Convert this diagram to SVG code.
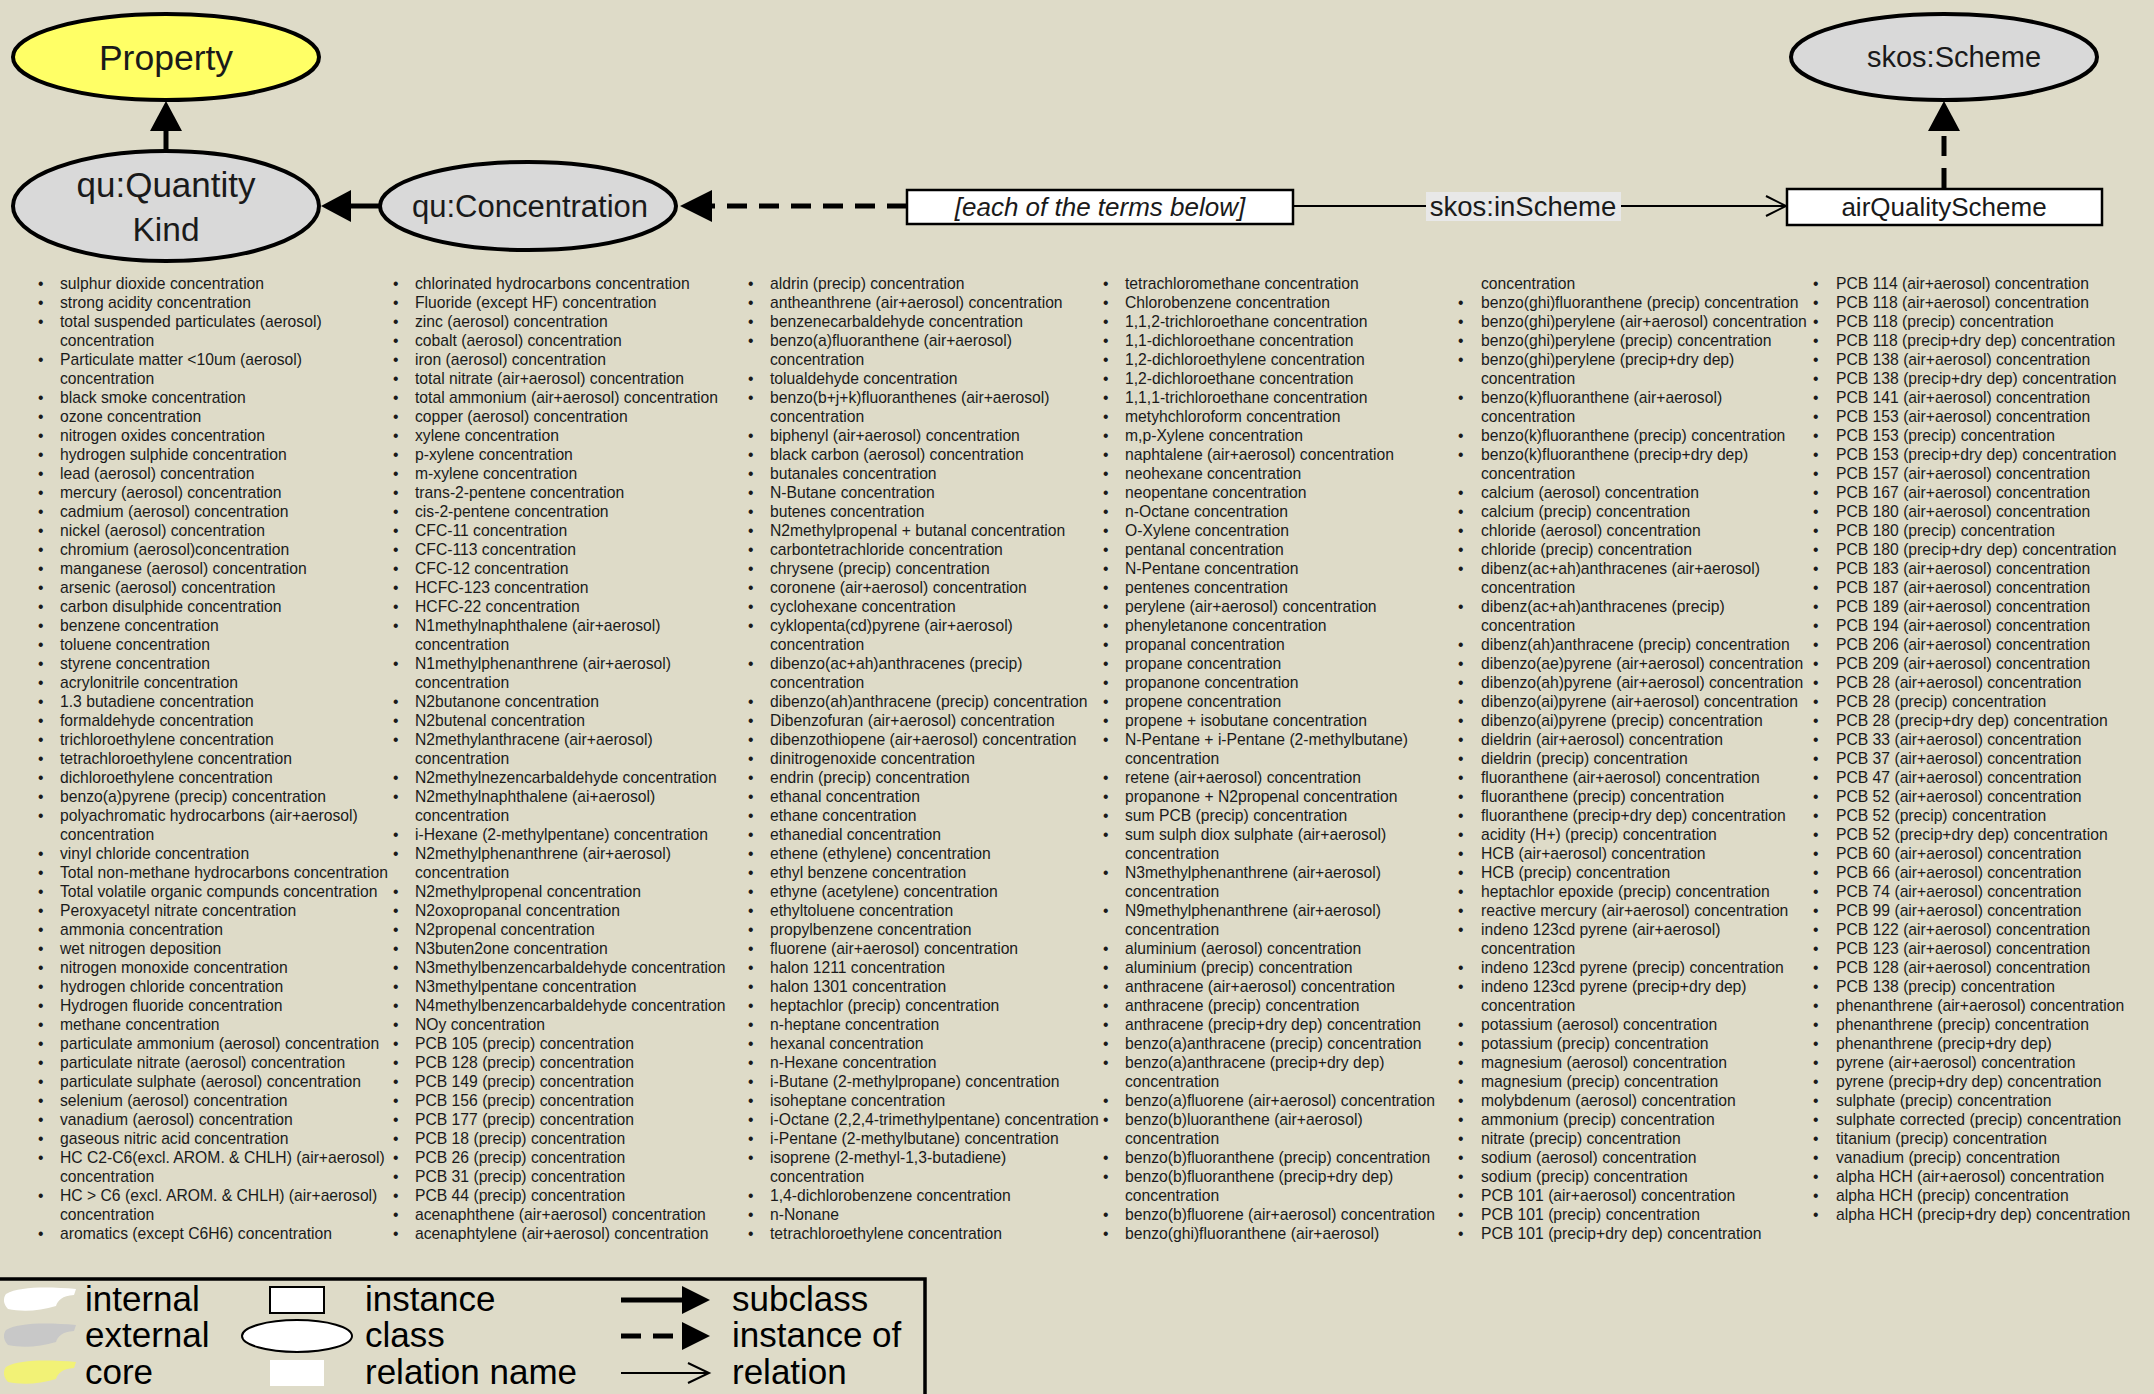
<svg xmlns="http://www.w3.org/2000/svg" width="2154" height="1394" viewBox="0 0 2154 1394">
<defs>
<style>
.bg{fill:#dedbc8}
.ell{stroke:#000;stroke-width:4}
.lbl{font-family:"Liberation Sans",Arial,sans-serif;fill:#1a1a1a;text-anchor:middle}
.box{fill:#fff;stroke:#000;stroke-width:2.5}
.li{font-family:"Liberation Sans",Arial,sans-serif;font-size:15.7px;fill:#1a1a1a}
.leg{font-family:"Liberation Sans",Arial,sans-serif;font-size:35px;fill:#000}
.sub{stroke:#000;stroke-width:5;fill:none}
.inst{stroke:#000;stroke-width:5;fill:none;stroke-dasharray:20 12}
.rel{stroke:#000;stroke-width:2;fill:none}
.head{fill:#000}
</style>
</defs>
<rect class="bg" x="0" y="0" width="2154" height="1394"/>

<g id="connectors">
  <line class="sub" x1="166" y1="151" x2="166" y2="128"/>
  <polygon class="head" points="166,101 150,131 182,131"/>
  <line class="sub" x1="379" y1="206" x2="348" y2="206"/>
  <polygon class="head" points="321,206 351,190 351,222"/>
  <line class="inst" x1="907" y1="206" x2="712" y2="206"/>
  <polygon class="head" points="680,206 712,190 712,222"/>
  <line class="rel" x1="1293" y1="206" x2="1785" y2="206"/>
  <polyline class="rel" points="1766,196 1786,206 1766,216"/>
  <line class="inst" x1="1944" y1="188" x2="1944" y2="131"/>
  <polygon class="head" points="1944,101 1928,131 1960,131"/>
  <g id="label-inScheme">
    <rect x="1426" y="192" width="195" height="29" fill="#e8e8e8"/>
    <text class="lbl" x="1523" y="216" font-size="27.5">skos:inScheme</text>
  </g>
</g>

<g id="node-property">
  <ellipse class="ell" cx="166" cy="57" rx="153" ry="43" fill="#ffff66"/>
  <text class="lbl" x="166" y="70" font-size="35.5">Property</text>
</g>
<g id="node-skosScheme">
  <ellipse class="ell" cx="1944" cy="57" rx="153" ry="43" fill="#d9d9d9"/>
  <text class="lbl" x="1954" y="67" font-size="29">skos:Scheme</text>
</g>
<g id="node-quantityKind">
  <ellipse class="ell" cx="166" cy="206" rx="153" ry="55" fill="#d9d9d9"/>
  <text class="lbl" x="166" y="197" font-size="35">qu:Quantity</text>
  <text class="lbl" x="166" y="241" font-size="33.5">Kind</text>
</g>
<g id="node-concentration">
  <ellipse class="ell" cx="528" cy="206" rx="148" ry="44" fill="#d9d9d9"/>
  <text class="lbl" x="530" y="217" font-size="31">qu:Concentration</text>
</g>
<g id="node-terms">
  <rect class="box" x="907" y="190" width="386" height="34"/>
  <text class="lbl" x="1100" y="216" font-size="26" font-style="italic">[each of the terms below]</text>
</g>
<g id="node-airQualityScheme">
  <rect class="box" x="1787" y="189" width="315" height="36"/>
  <text class="lbl" x="1944" y="216" font-size="26">airQualityScheme</text>
</g>

<g id="terms-col1" class="li">
<text x="38">
<tspan x="38" y="289">•</tspan><tspan x="38" y="308">•</tspan><tspan x="38" y="327">•</tspan><tspan x="38" y="365">•</tspan><tspan x="38" y="403">•</tspan><tspan x="38" y="422">•</tspan><tspan x="38" y="441">•</tspan><tspan x="38" y="460">•</tspan><tspan x="38" y="479">•</tspan><tspan x="38" y="498">•</tspan><tspan x="38" y="517">•</tspan><tspan x="38" y="536">•</tspan><tspan x="38" y="555">•</tspan><tspan x="38" y="574">•</tspan><tspan x="38" y="593">•</tspan><tspan x="38" y="612">•</tspan><tspan x="38" y="631">•</tspan><tspan x="38" y="650">•</tspan><tspan x="38" y="669">•</tspan><tspan x="38" y="688">•</tspan><tspan x="38" y="707">•</tspan><tspan x="38" y="726">•</tspan><tspan x="38" y="745">•</tspan><tspan x="38" y="764">•</tspan><tspan x="38" y="783">•</tspan><tspan x="38" y="802">•</tspan><tspan x="38" y="821">•</tspan><tspan x="38" y="859">•</tspan><tspan x="38" y="878">•</tspan><tspan x="38" y="897">•</tspan><tspan x="38" y="916">•</tspan><tspan x="38" y="935">•</tspan><tspan x="38" y="954">•</tspan><tspan x="38" y="973">•</tspan><tspan x="38" y="992">•</tspan><tspan x="38" y="1011">•</tspan><tspan x="38" y="1030">•</tspan><tspan x="38" y="1049">•</tspan><tspan x="38" y="1068">•</tspan><tspan x="38" y="1087">•</tspan><tspan x="38" y="1106">•</tspan><tspan x="38" y="1125">•</tspan><tspan x="38" y="1144">•</tspan><tspan x="38" y="1163">•</tspan><tspan x="38" y="1201">•</tspan><tspan x="38" y="1239">•</tspan>
</text>
<text>
<tspan x="60" y="289">sulphur dioxide concentration</tspan>
<tspan x="60" y="308">strong acidity concentration</tspan>
<tspan x="60" y="327">total suspended particulates (aerosol)</tspan>
<tspan x="60" y="346">concentration</tspan>
<tspan x="60" y="365">Particulate matter &lt;10um (aerosol)</tspan>
<tspan x="60" y="384">concentration</tspan>
<tspan x="60" y="403">black smoke concentration</tspan>
<tspan x="60" y="422">ozone concentration</tspan>
<tspan x="60" y="441">nitrogen oxides concentration</tspan>
<tspan x="60" y="460">hydrogen sulphide concentration</tspan>
<tspan x="60" y="479">lead (aerosol) concentration</tspan>
<tspan x="60" y="498">mercury (aerosol) concentration</tspan>
<tspan x="60" y="517">cadmium (aerosol) concentration</tspan>
<tspan x="60" y="536">nickel (aerosol) concentration</tspan>
<tspan x="60" y="555">chromium (aerosol)concentration</tspan>
<tspan x="60" y="574">manganese (aerosol) concentration</tspan>
<tspan x="60" y="593">arsenic (aerosol) concentration</tspan>
<tspan x="60" y="612">carbon disulphide concentration</tspan>
<tspan x="60" y="631">benzene concentration</tspan>
<tspan x="60" y="650">toluene concentration</tspan>
<tspan x="60" y="669">styrene concentration</tspan>
<tspan x="60" y="688">acrylonitrile concentration</tspan>
<tspan x="60" y="707">1.3 butadiene concentration</tspan>
<tspan x="60" y="726">formaldehyde concentration</tspan>
<tspan x="60" y="745">trichloroethylene concentration</tspan>
<tspan x="60" y="764">tetrachloroethylene concentration</tspan>
<tspan x="60" y="783">dichloroethylene concentration</tspan>
<tspan x="60" y="802">benzo(a)pyrene (precip) concentration</tspan>
<tspan x="60" y="821">polyachromatic hydrocarbons (air+aerosol)</tspan>
<tspan x="60" y="840">concentration</tspan>
<tspan x="60" y="859">vinyl chloride concentration</tspan>
<tspan x="60" y="878">Total non-methane hydrocarbons concentration</tspan>
<tspan x="60" y="897">Total volatile organic compunds concentration</tspan>
<tspan x="60" y="916">Peroxyacetyl nitrate concentration</tspan>
<tspan x="60" y="935">ammonia concentration</tspan>
<tspan x="60" y="954">wet nitrogen deposition</tspan>
<tspan x="60" y="973">nitrogen monoxide concentration</tspan>
<tspan x="60" y="992">hydrogen chloride concentration</tspan>
<tspan x="60" y="1011">Hydrogen fluoride concentration</tspan>
<tspan x="60" y="1030">methane concentration</tspan>
<tspan x="60" y="1049">particulate ammonium (aerosol) concentration</tspan>
<tspan x="60" y="1068">particulate nitrate (aerosol) concentration</tspan>
<tspan x="60" y="1087">particulate sulphate (aerosol) concentration</tspan>
<tspan x="60" y="1106">selenium (aerosol) concentration</tspan>
<tspan x="60" y="1125">vanadium (aerosol) concentration</tspan>
<tspan x="60" y="1144">gaseous nitric acid concentration</tspan>
<tspan x="60" y="1163">HC C2-C6(excl. AROM. &amp; CHLH) (air+aerosol)</tspan>
<tspan x="60" y="1182">concentration</tspan>
<tspan x="60" y="1201">HC &gt; C6 (excl. AROM. &amp; CHLH) (air+aerosol)</tspan>
<tspan x="60" y="1220">concentration</tspan>
<tspan x="60" y="1239">aromatics (except C6H6) concentration</tspan>
</text>
</g>

<g id="terms-col2" class="li">
<text>
<tspan x="393" y="289">•</tspan><tspan x="393" y="308">•</tspan><tspan x="393" y="327">•</tspan><tspan x="393" y="346">•</tspan><tspan x="393" y="365">•</tspan><tspan x="393" y="384">•</tspan><tspan x="393" y="403">•</tspan><tspan x="393" y="422">•</tspan><tspan x="393" y="441">•</tspan><tspan x="393" y="460">•</tspan><tspan x="393" y="479">•</tspan><tspan x="393" y="498">•</tspan><tspan x="393" y="517">•</tspan><tspan x="393" y="536">•</tspan><tspan x="393" y="555">•</tspan><tspan x="393" y="574">•</tspan><tspan x="393" y="593">•</tspan><tspan x="393" y="612">•</tspan><tspan x="393" y="631">•</tspan><tspan x="393" y="669">•</tspan><tspan x="393" y="707">•</tspan><tspan x="393" y="726">•</tspan><tspan x="393" y="745">•</tspan><tspan x="393" y="783">•</tspan><tspan x="393" y="802">•</tspan><tspan x="393" y="840">•</tspan><tspan x="393" y="859">•</tspan><tspan x="393" y="897">•</tspan><tspan x="393" y="916">•</tspan><tspan x="393" y="935">•</tspan><tspan x="393" y="954">•</tspan><tspan x="393" y="973">•</tspan><tspan x="393" y="992">•</tspan><tspan x="393" y="1011">•</tspan><tspan x="393" y="1030">•</tspan><tspan x="393" y="1049">•</tspan><tspan x="393" y="1068">•</tspan><tspan x="393" y="1087">•</tspan><tspan x="393" y="1106">•</tspan><tspan x="393" y="1125">•</tspan><tspan x="393" y="1144">•</tspan><tspan x="393" y="1163">•</tspan><tspan x="393" y="1182">•</tspan><tspan x="393" y="1201">•</tspan><tspan x="393" y="1220">•</tspan><tspan x="393" y="1239">•</tspan>
</text>
<text>
<tspan x="415" y="289">chlorinated hydrocarbons concentration</tspan>
<tspan x="415" y="308">Fluoride (except HF) concentration</tspan>
<tspan x="415" y="327">zinc (aerosol) concentration</tspan>
<tspan x="415" y="346">cobalt (aerosol) concentration</tspan>
<tspan x="415" y="365">iron (aerosol) concentration</tspan>
<tspan x="415" y="384">total nitrate (air+aerosol) concentration</tspan>
<tspan x="415" y="403">total ammonium (air+aerosol) concentration</tspan>
<tspan x="415" y="422">copper (aerosol) concentration</tspan>
<tspan x="415" y="441">xylene concentration</tspan>
<tspan x="415" y="460">p-xylene concentration</tspan>
<tspan x="415" y="479">m-xylene concentration</tspan>
<tspan x="415" y="498">trans-2-pentene concentration</tspan>
<tspan x="415" y="517">cis-2-pentene concentration</tspan>
<tspan x="415" y="536">CFC-11 concentration</tspan>
<tspan x="415" y="555">CFC-113 concentration</tspan>
<tspan x="415" y="574">CFC-12 concentration</tspan>
<tspan x="415" y="593">HCFC-123 concentration</tspan>
<tspan x="415" y="612">HCFC-22 concentration</tspan>
<tspan x="415" y="631">N1methylnaphthalene (air+aerosol)</tspan>
<tspan x="415" y="650">concentration</tspan>
<tspan x="415" y="669">N1methylphenanthrene (air+aerosol)</tspan>
<tspan x="415" y="688">concentration</tspan>
<tspan x="415" y="707">N2butanone concentration</tspan>
<tspan x="415" y="726">N2butenal concentration</tspan>
<tspan x="415" y="745">N2methylanthracene (air+aerosol)</tspan>
<tspan x="415" y="764">concentration</tspan>
<tspan x="415" y="783">N2methylnezencarbaldehyde concentration</tspan>
<tspan x="415" y="802">N2methylnaphthalene (ai+aerosol)</tspan>
<tspan x="415" y="821">concentration</tspan>
<tspan x="415" y="840">i-Hexane (2-methylpentane) concentration</tspan>
<tspan x="415" y="859">N2methylphenanthrene (air+aerosol)</tspan>
<tspan x="415" y="878">concentration</tspan>
<tspan x="415" y="897">N2methylpropenal concentration</tspan>
<tspan x="415" y="916">N2oxopropanal concentration</tspan>
<tspan x="415" y="935">N2propenal concentration</tspan>
<tspan x="415" y="954">N3buten2one concentration</tspan>
<tspan x="415" y="973">N3methylbenzencarbaldehyde concentration</tspan>
<tspan x="415" y="992">N3methylpentane concentration</tspan>
<tspan x="415" y="1011">N4methylbenzencarbaldehyde concentration</tspan>
<tspan x="415" y="1030">NOy concentration</tspan>
<tspan x="415" y="1049">PCB 105 (precip) concentration</tspan>
<tspan x="415" y="1068">PCB 128 (precip) concentration</tspan>
<tspan x="415" y="1087">PCB 149 (precip) concentration</tspan>
<tspan x="415" y="1106">PCB 156 (precip) concentration</tspan>
<tspan x="415" y="1125">PCB 177 (precip) concentration</tspan>
<tspan x="415" y="1144">PCB 18 (precip) concentration</tspan>
<tspan x="415" y="1163">PCB 26 (precip) concentration</tspan>
<tspan x="415" y="1182">PCB 31 (precip) concentration</tspan>
<tspan x="415" y="1201">PCB 44 (precip) concentration</tspan>
<tspan x="415" y="1220">acenaphthene (air+aerosol) concentration</tspan>
<tspan x="415" y="1239">acenaphtylene (air+aerosol) concentration</tspan>
</text>
</g>

<g id="terms-col3" class="li">
<text>
<tspan x="748" y="289">•</tspan><tspan x="748" y="308">•</tspan><tspan x="748" y="327">•</tspan><tspan x="748" y="346">•</tspan><tspan x="748" y="384">•</tspan><tspan x="748" y="403">•</tspan><tspan x="748" y="441">•</tspan><tspan x="748" y="460">•</tspan><tspan x="748" y="479">•</tspan><tspan x="748" y="498">•</tspan><tspan x="748" y="517">•</tspan><tspan x="748" y="536">•</tspan><tspan x="748" y="555">•</tspan><tspan x="748" y="574">•</tspan><tspan x="748" y="593">•</tspan><tspan x="748" y="612">•</tspan><tspan x="748" y="631">•</tspan><tspan x="748" y="669">•</tspan><tspan x="748" y="707">•</tspan><tspan x="748" y="726">•</tspan><tspan x="748" y="745">•</tspan><tspan x="748" y="764">•</tspan><tspan x="748" y="783">•</tspan><tspan x="748" y="802">•</tspan><tspan x="748" y="821">•</tspan><tspan x="748" y="840">•</tspan><tspan x="748" y="859">•</tspan><tspan x="748" y="878">•</tspan><tspan x="748" y="897">•</tspan><tspan x="748" y="916">•</tspan><tspan x="748" y="935">•</tspan><tspan x="748" y="954">•</tspan><tspan x="748" y="973">•</tspan><tspan x="748" y="992">•</tspan><tspan x="748" y="1011">•</tspan><tspan x="748" y="1030">•</tspan><tspan x="748" y="1049">•</tspan><tspan x="748" y="1068">•</tspan><tspan x="748" y="1087">•</tspan><tspan x="748" y="1106">•</tspan><tspan x="748" y="1125">•</tspan><tspan x="748" y="1144">•</tspan><tspan x="748" y="1163">•</tspan><tspan x="748" y="1201">•</tspan><tspan x="748" y="1220">•</tspan><tspan x="748" y="1239">•</tspan>
</text>
<text>
<tspan x="770" y="289">aldrin (precip) concentration</tspan>
<tspan x="770" y="308">antheanthrene (air+aerosol) concentration</tspan>
<tspan x="770" y="327">benzenecarbaldehyde concentration</tspan>
<tspan x="770" y="346">benzo(a)fluoranthene (air+aerosol)</tspan>
<tspan x="770" y="365">concentration</tspan>
<tspan x="770" y="384">tolualdehyde concentration</tspan>
<tspan x="770" y="403">benzo(b+j+k)fluoranthenes (air+aerosol)</tspan>
<tspan x="770" y="422">concentration</tspan>
<tspan x="770" y="441">biphenyl (air+aerosol) concentration</tspan>
<tspan x="770" y="460">black carbon (aerosol) concentration</tspan>
<tspan x="770" y="479">butanales concentration</tspan>
<tspan x="770" y="498">N-Butane concentration</tspan>
<tspan x="770" y="517">butenes concentration</tspan>
<tspan x="770" y="536">N2methylpropenal + butanal concentration</tspan>
<tspan x="770" y="555">carbontetrachloride concentration</tspan>
<tspan x="770" y="574">chrysene (precip) concentration</tspan>
<tspan x="770" y="593">coronene (air+aerosol) concentration</tspan>
<tspan x="770" y="612">cyclohexane concentration</tspan>
<tspan x="770" y="631">cyklopenta(cd)pyrene (air+aerosol)</tspan>
<tspan x="770" y="650">concentration</tspan>
<tspan x="770" y="669">dibenzo(ac+ah)anthracenes (precip)</tspan>
<tspan x="770" y="688">concentration</tspan>
<tspan x="770" y="707">dibenzo(ah)anthracene (precip) concentration</tspan>
<tspan x="770" y="726">Dibenzofuran (air+aerosol) concentration</tspan>
<tspan x="770" y="745">dibenzothiopene (air+aerosol) concentration</tspan>
<tspan x="770" y="764">dinitrogenoxide concentration</tspan>
<tspan x="770" y="783">endrin (precip) concentration</tspan>
<tspan x="770" y="802">ethanal concentration</tspan>
<tspan x="770" y="821">ethane concentration</tspan>
<tspan x="770" y="840">ethanedial concentration</tspan>
<tspan x="770" y="859">ethene (ethylene) concentration</tspan>
<tspan x="770" y="878">ethyl benzene concentration</tspan>
<tspan x="770" y="897">ethyne (acetylene) concentration</tspan>
<tspan x="770" y="916">ethyltoluene concentration</tspan>
<tspan x="770" y="935">propylbenzene concentration</tspan>
<tspan x="770" y="954">fluorene (air+aerosol) concentration</tspan>
<tspan x="770" y="973">halon 1211 concentration</tspan>
<tspan x="770" y="992">halon 1301 concentration</tspan>
<tspan x="770" y="1011">heptachlor (precip) concentration</tspan>
<tspan x="770" y="1030">n-heptane concentration</tspan>
<tspan x="770" y="1049">hexanal concentration</tspan>
<tspan x="770" y="1068">n-Hexane concentration</tspan>
<tspan x="770" y="1087">i-Butane (2-methylpropane) concentration</tspan>
<tspan x="770" y="1106">isoheptane concentration</tspan>
<tspan x="770" y="1125">i-Octane (2,2,4-trimethylpentane) concentration</tspan>
<tspan x="770" y="1144">i-Pentane (2-methylbutane) concentration</tspan>
<tspan x="770" y="1163">isoprene (2-methyl-1,3-butadiene)</tspan>
<tspan x="770" y="1182">concentration</tspan>
<tspan x="770" y="1201">1,4-dichlorobenzene concentration</tspan>
<tspan x="770" y="1220">n-Nonane</tspan>
<tspan x="770" y="1239">tetrachloroethylene concentration</tspan>
</text>
</g>

<g id="terms-col4" class="li">
<text>
<tspan x="1103" y="289">•</tspan><tspan x="1103" y="308">•</tspan><tspan x="1103" y="327">•</tspan><tspan x="1103" y="346">•</tspan><tspan x="1103" y="365">•</tspan><tspan x="1103" y="384">•</tspan><tspan x="1103" y="403">•</tspan><tspan x="1103" y="422">•</tspan><tspan x="1103" y="441">•</tspan><tspan x="1103" y="460">•</tspan><tspan x="1103" y="479">•</tspan><tspan x="1103" y="498">•</tspan><tspan x="1103" y="517">•</tspan><tspan x="1103" y="536">•</tspan><tspan x="1103" y="555">•</tspan><tspan x="1103" y="574">•</tspan><tspan x="1103" y="593">•</tspan><tspan x="1103" y="612">•</tspan><tspan x="1103" y="631">•</tspan><tspan x="1103" y="650">•</tspan><tspan x="1103" y="669">•</tspan><tspan x="1103" y="688">•</tspan><tspan x="1103" y="707">•</tspan><tspan x="1103" y="726">•</tspan><tspan x="1103" y="745">•</tspan><tspan x="1103" y="783">•</tspan><tspan x="1103" y="802">•</tspan><tspan x="1103" y="821">•</tspan><tspan x="1103" y="840">•</tspan><tspan x="1103" y="878">•</tspan><tspan x="1103" y="916">•</tspan><tspan x="1103" y="954">•</tspan><tspan x="1103" y="973">•</tspan><tspan x="1103" y="992">•</tspan><tspan x="1103" y="1011">•</tspan><tspan x="1103" y="1030">•</tspan><tspan x="1103" y="1049">•</tspan><tspan x="1103" y="1068">•</tspan><tspan x="1103" y="1106">•</tspan><tspan x="1103" y="1125">•</tspan><tspan x="1103" y="1163">•</tspan><tspan x="1103" y="1182">•</tspan><tspan x="1103" y="1220">•</tspan><tspan x="1103" y="1239">•</tspan>
</text>
<text>
<tspan x="1125" y="289">tetrachloromethane concentration</tspan>
<tspan x="1125" y="308">Chlorobenzene concentration</tspan>
<tspan x="1125" y="327">1,1,2-trichloroethane concentration</tspan>
<tspan x="1125" y="346">1,1-dichloroethane concentration</tspan>
<tspan x="1125" y="365">1,2-dichloroethylene concentration</tspan>
<tspan x="1125" y="384">1,2-dichloroethane concentration</tspan>
<tspan x="1125" y="403">1,1,1-trichloroethane concentration</tspan>
<tspan x="1125" y="422">metyhchloroform concentration</tspan>
<tspan x="1125" y="441">m,p-Xylene concentration</tspan>
<tspan x="1125" y="460">naphtalene (air+aerosol) concentration</tspan>
<tspan x="1125" y="479">neohexane concentration</tspan>
<tspan x="1125" y="498">neopentane concentration</tspan>
<tspan x="1125" y="517">n-Octane concentration</tspan>
<tspan x="1125" y="536">O-Xylene concentration</tspan>
<tspan x="1125" y="555">pentanal concentration</tspan>
<tspan x="1125" y="574">N-Pentane concentration</tspan>
<tspan x="1125" y="593">pentenes concentration</tspan>
<tspan x="1125" y="612">perylene (air+aerosol) concentration</tspan>
<tspan x="1125" y="631">phenyletanone concentration</tspan>
<tspan x="1125" y="650">propanal concentration</tspan>
<tspan x="1125" y="669">propane concentration</tspan>
<tspan x="1125" y="688">propanone concentration</tspan>
<tspan x="1125" y="707">propene concentration</tspan>
<tspan x="1125" y="726">propene + isobutane concentration</tspan>
<tspan x="1125" y="745">N-Pentane + i-Pentane (2-methylbutane)</tspan>
<tspan x="1125" y="764">concentration</tspan>
<tspan x="1125" y="783">retene (air+aerosol) concentration</tspan>
<tspan x="1125" y="802">propanone + N2propenal concentration</tspan>
<tspan x="1125" y="821">sum PCB (precip) concentration</tspan>
<tspan x="1125" y="840">sum sulph diox sulphate (air+aerosol)</tspan>
<tspan x="1125" y="859">concentration</tspan>
<tspan x="1125" y="878">N3methylphenanthrene (air+aerosol)</tspan>
<tspan x="1125" y="897">concentration</tspan>
<tspan x="1125" y="916">N9methylphenanthrene (air+aerosol)</tspan>
<tspan x="1125" y="935">concentration</tspan>
<tspan x="1125" y="954">aluminium (aerosol) concentration</tspan>
<tspan x="1125" y="973">aluminium (precip) concentration</tspan>
<tspan x="1125" y="992">anthracene (air+aerosol) concentration</tspan>
<tspan x="1125" y="1011">anthracene (precip) concentration</tspan>
<tspan x="1125" y="1030">anthracene (precip+dry dep) concentration</tspan>
<tspan x="1125" y="1049">benzo(a)anthracene (precip) concentration</tspan>
<tspan x="1125" y="1068">benzo(a)anthracene (precip+dry dep)</tspan>
<tspan x="1125" y="1087">concentration</tspan>
<tspan x="1125" y="1106">benzo(a)fluorene (air+aerosol) concentration</tspan>
<tspan x="1125" y="1125">benzo(b)luoranthene (air+aerosol)</tspan>
<tspan x="1125" y="1144">concentration</tspan>
<tspan x="1125" y="1163">benzo(b)fluoranthene (precip) concentration</tspan>
<tspan x="1125" y="1182">benzo(b)fluoranthene (precip+dry dep)</tspan>
<tspan x="1125" y="1201">concentration</tspan>
<tspan x="1125" y="1220">benzo(b)fluorene (air+aerosol) concentration</tspan>
<tspan x="1125" y="1239">benzo(ghi)fluoranthene (air+aerosol)</tspan>
</text>
</g>

<g id="terms-col5" class="li">
<text>
<tspan x="1458" y="308">•</tspan><tspan x="1458" y="327">•</tspan><tspan x="1458" y="346">•</tspan><tspan x="1458" y="365">•</tspan><tspan x="1458" y="403">•</tspan><tspan x="1458" y="441">•</tspan><tspan x="1458" y="460">•</tspan><tspan x="1458" y="498">•</tspan><tspan x="1458" y="517">•</tspan><tspan x="1458" y="536">•</tspan><tspan x="1458" y="555">•</tspan><tspan x="1458" y="574">•</tspan><tspan x="1458" y="612">•</tspan><tspan x="1458" y="650">•</tspan><tspan x="1458" y="669">•</tspan><tspan x="1458" y="688">•</tspan><tspan x="1458" y="707">•</tspan><tspan x="1458" y="726">•</tspan><tspan x="1458" y="745">•</tspan><tspan x="1458" y="764">•</tspan><tspan x="1458" y="783">•</tspan><tspan x="1458" y="802">•</tspan><tspan x="1458" y="821">•</tspan><tspan x="1458" y="840">•</tspan><tspan x="1458" y="859">•</tspan><tspan x="1458" y="878">•</tspan><tspan x="1458" y="897">•</tspan><tspan x="1458" y="916">•</tspan><tspan x="1458" y="935">•</tspan><tspan x="1458" y="973">•</tspan><tspan x="1458" y="992">•</tspan><tspan x="1458" y="1030">•</tspan><tspan x="1458" y="1049">•</tspan><tspan x="1458" y="1068">•</tspan><tspan x="1458" y="1087">•</tspan><tspan x="1458" y="1106">•</tspan><tspan x="1458" y="1125">•</tspan><tspan x="1458" y="1144">•</tspan><tspan x="1458" y="1163">•</tspan><tspan x="1458" y="1182">•</tspan><tspan x="1458" y="1201">•</tspan><tspan x="1458" y="1220">•</tspan><tspan x="1458" y="1239">•</tspan>
</text>
<text>
<tspan x="1481" y="289">concentration</tspan>
<tspan x="1481" y="308">benzo(ghi)fluoranthene (precip) concentration</tspan>
<tspan x="1481" y="327">benzo(ghi)perylene (air+aerosol) concentration</tspan>
<tspan x="1481" y="346">benzo(ghi)perylene (precip) concentration</tspan>
<tspan x="1481" y="365">benzo(ghi)perylene (precip+dry dep)</tspan>
<tspan x="1481" y="384">concentration</tspan>
<tspan x="1481" y="403">benzo(k)fluoranthene (air+aerosol)</tspan>
<tspan x="1481" y="422">concentration</tspan>
<tspan x="1481" y="441">benzo(k)fluoranthene (precip) concentration</tspan>
<tspan x="1481" y="460">benzo(k)fluoranthene (precip+dry dep)</tspan>
<tspan x="1481" y="479">concentration</tspan>
<tspan x="1481" y="498">calcium (aerosol) concentration</tspan>
<tspan x="1481" y="517">calcium (precip) concentration</tspan>
<tspan x="1481" y="536">chloride (aerosol) concentration</tspan>
<tspan x="1481" y="555">chloride (precip) concentration</tspan>
<tspan x="1481" y="574">dibenz(ac+ah)anthracenes (air+aerosol)</tspan>
<tspan x="1481" y="593">concentration</tspan>
<tspan x="1481" y="612">dibenz(ac+ah)anthracenes (precip)</tspan>
<tspan x="1481" y="631">concentration</tspan>
<tspan x="1481" y="650">dibenz(ah)anthracene (precip) concentration</tspan>
<tspan x="1481" y="669">dibenzo(ae)pyrene (air+aerosol) concentration</tspan>
<tspan x="1481" y="688">dibenzo(ah)pyrene (air+aerosol) concentration</tspan>
<tspan x="1481" y="707">dibenzo(ai)pyrene (air+aerosol) concentration</tspan>
<tspan x="1481" y="726">dibenzo(ai)pyrene (precip) concentration</tspan>
<tspan x="1481" y="745">dieldrin (air+aerosol) concentration</tspan>
<tspan x="1481" y="764">dieldrin (precip) concentration</tspan>
<tspan x="1481" y="783">fluoranthene (air+aerosol) concentration</tspan>
<tspan x="1481" y="802">fluoranthene (precip) concentration</tspan>
<tspan x="1481" y="821">fluoranthene (precip+dry dep) concentration</tspan>
<tspan x="1481" y="840">acidity (H+) (precip) concentration</tspan>
<tspan x="1481" y="859">HCB (air+aerosol) concentration</tspan>
<tspan x="1481" y="878">HCB (precip) concentration</tspan>
<tspan x="1481" y="897">heptachlor epoxide (precip) concentration</tspan>
<tspan x="1481" y="916">reactive mercury (air+aerosol) concentration</tspan>
<tspan x="1481" y="935">indeno 123cd pyrene (air+aerosol)</tspan>
<tspan x="1481" y="954">concentration</tspan>
<tspan x="1481" y="973">indeno 123cd pyrene (precip) concentration</tspan>
<tspan x="1481" y="992">indeno 123cd pyrene (precip+dry dep)</tspan>
<tspan x="1481" y="1011">concentration</tspan>
<tspan x="1481" y="1030">potassium (aerosol) concentration</tspan>
<tspan x="1481" y="1049">potassium (precip) concentration</tspan>
<tspan x="1481" y="1068">magnesium (aerosol) concentration</tspan>
<tspan x="1481" y="1087">magnesium (precip) concentration</tspan>
<tspan x="1481" y="1106">molybdenum (aerosol) concentration</tspan>
<tspan x="1481" y="1125">ammonium (precip) concentration</tspan>
<tspan x="1481" y="1144">nitrate (precip) concentration</tspan>
<tspan x="1481" y="1163">sodium (aerosol) concentration</tspan>
<tspan x="1481" y="1182">sodium (precip) concentration</tspan>
<tspan x="1481" y="1201">PCB 101 (air+aerosol) concentration</tspan>
<tspan x="1481" y="1220">PCB 101 (precip) concentration</tspan>
<tspan x="1481" y="1239">PCB 101 (precip+dry dep) concentration</tspan>
</text>
</g>

<g id="terms-col6" class="li">
<text>
<tspan x="1813" y="289">•</tspan><tspan x="1813" y="308">•</tspan><tspan x="1813" y="327">•</tspan><tspan x="1813" y="346">•</tspan><tspan x="1813" y="365">•</tspan><tspan x="1813" y="384">•</tspan><tspan x="1813" y="403">•</tspan><tspan x="1813" y="422">•</tspan><tspan x="1813" y="441">•</tspan><tspan x="1813" y="460">•</tspan><tspan x="1813" y="479">•</tspan><tspan x="1813" y="498">•</tspan><tspan x="1813" y="517">•</tspan><tspan x="1813" y="536">•</tspan><tspan x="1813" y="555">•</tspan><tspan x="1813" y="574">•</tspan><tspan x="1813" y="593">•</tspan><tspan x="1813" y="612">•</tspan><tspan x="1813" y="631">•</tspan><tspan x="1813" y="650">•</tspan><tspan x="1813" y="669">•</tspan><tspan x="1813" y="688">•</tspan><tspan x="1813" y="707">•</tspan><tspan x="1813" y="726">•</tspan><tspan x="1813" y="745">•</tspan><tspan x="1813" y="764">•</tspan><tspan x="1813" y="783">•</tspan><tspan x="1813" y="802">•</tspan><tspan x="1813" y="821">•</tspan><tspan x="1813" y="840">•</tspan><tspan x="1813" y="859">•</tspan><tspan x="1813" y="878">•</tspan><tspan x="1813" y="897">•</tspan><tspan x="1813" y="916">•</tspan><tspan x="1813" y="935">•</tspan><tspan x="1813" y="954">•</tspan><tspan x="1813" y="973">•</tspan><tspan x="1813" y="992">•</tspan><tspan x="1813" y="1011">•</tspan><tspan x="1813" y="1030">•</tspan><tspan x="1813" y="1049">•</tspan><tspan x="1813" y="1068">•</tspan><tspan x="1813" y="1087">•</tspan><tspan x="1813" y="1106">•</tspan><tspan x="1813" y="1125">•</tspan><tspan x="1813" y="1144">•</tspan><tspan x="1813" y="1163">•</tspan><tspan x="1813" y="1182">•</tspan><tspan x="1813" y="1201">•</tspan><tspan x="1813" y="1220">•</tspan>
</text>
<text>
<tspan x="1836" y="289">PCB 114 (air+aerosol) concentration</tspan>
<tspan x="1836" y="308">PCB 118 (air+aerosol) concentration</tspan>
<tspan x="1836" y="327">PCB 118 (precip) concentration</tspan>
<tspan x="1836" y="346">PCB 118 (precip+dry dep) concentration</tspan>
<tspan x="1836" y="365">PCB 138 (air+aerosol) concentration</tspan>
<tspan x="1836" y="384">PCB 138 (precip+dry dep) concentration</tspan>
<tspan x="1836" y="403">PCB 141 (air+aerosol) concentration</tspan>
<tspan x="1836" y="422">PCB 153 (air+aerosol) concentration</tspan>
<tspan x="1836" y="441">PCB 153 (precip) concentration</tspan>
<tspan x="1836" y="460">PCB 153 (precip+dry dep) concentration</tspan>
<tspan x="1836" y="479">PCB 157 (air+aerosol) concentration</tspan>
<tspan x="1836" y="498">PCB 167 (air+aerosol) concentration</tspan>
<tspan x="1836" y="517">PCB 180 (air+aerosol) concentration</tspan>
<tspan x="1836" y="536">PCB 180 (precip) concentration</tspan>
<tspan x="1836" y="555">PCB 180 (precip+dry dep) concentration</tspan>
<tspan x="1836" y="574">PCB 183 (air+aerosol) concentration</tspan>
<tspan x="1836" y="593">PCB 187 (air+aerosol) concentration</tspan>
<tspan x="1836" y="612">PCB 189 (air+aerosol) concentration</tspan>
<tspan x="1836" y="631">PCB 194 (air+aerosol) concentration</tspan>
<tspan x="1836" y="650">PCB 206 (air+aerosol) concentration</tspan>
<tspan x="1836" y="669">PCB 209 (air+aerosol) concentration</tspan>
<tspan x="1836" y="688">PCB 28 (air+aerosol) concentration</tspan>
<tspan x="1836" y="707">PCB 28 (precip) concentration</tspan>
<tspan x="1836" y="726">PCB 28 (precip+dry dep) concentration</tspan>
<tspan x="1836" y="745">PCB 33 (air+aerosol) concentration</tspan>
<tspan x="1836" y="764">PCB 37 (air+aerosol) concentration</tspan>
<tspan x="1836" y="783">PCB 47 (air+aerosol) concentration</tspan>
<tspan x="1836" y="802">PCB 52 (air+aerosol) concentration</tspan>
<tspan x="1836" y="821">PCB 52 (precip) concentration</tspan>
<tspan x="1836" y="840">PCB 52 (precip+dry dep) concentration</tspan>
<tspan x="1836" y="859">PCB 60 (air+aerosol) concentration</tspan>
<tspan x="1836" y="878">PCB 66 (air+aerosol) concentration</tspan>
<tspan x="1836" y="897">PCB 74 (air+aerosol) concentration</tspan>
<tspan x="1836" y="916">PCB 99 (air+aerosol) concentration</tspan>
<tspan x="1836" y="935">PCB 122 (air+aerosol) concentration</tspan>
<tspan x="1836" y="954">PCB 123 (air+aerosol) concentration</tspan>
<tspan x="1836" y="973">PCB 128 (air+aerosol) concentration</tspan>
<tspan x="1836" y="992">PCB 138 (precip) concentration</tspan>
<tspan x="1836" y="1011">phenanthrene (air+aerosol) concentration</tspan>
<tspan x="1836" y="1030">phenanthrene (precip) concentration</tspan>
<tspan x="1836" y="1049">phenanthrene (precip+dry dep)</tspan>
<tspan x="1836" y="1068">pyrene (air+aerosol) concentration</tspan>
<tspan x="1836" y="1087">pyrene (precip+dry dep) concentration</tspan>
<tspan x="1836" y="1106">sulphate (precip) concentration</tspan>
<tspan x="1836" y="1125">sulphate corrected (precip) concentration</tspan>
<tspan x="1836" y="1144">titanium (precip) concentration</tspan>
<tspan x="1836" y="1163">vanadium (precip) concentration</tspan>
<tspan x="1836" y="1182">alpha HCH (air+aerosol) concentration</tspan>
<tspan x="1836" y="1201">alpha HCH (precip) concentration</tspan>
<tspan x="1836" y="1220">alpha HCH (precip+dry dep) concentration</tspan>
</text>
</g>

<g id="legend">
  <polyline points="0,1279 925,1279 925,1394" fill="none" stroke="#000" stroke-width="3.5"/>
  <path d="M6,1294 C20,1286 50,1287 76,1289 L74,1295 C62,1296 58,1300 56,1306 C40,1311 22,1312 8,1309 C3,1304 3,1298 6,1294 Z" fill="#ffffff"/>
  <path d="M6,1330 C20,1322 50,1323 76,1325 L74,1331 C62,1332 58,1336 56,1342 C40,1347 22,1348 8,1345 C3,1340 3,1334 6,1330 Z" fill="#c8c8c8"/>
  <path d="M6,1367 C20,1359 50,1360 76,1362 L74,1368 C62,1369 58,1373 56,1379 C40,1384 22,1385 8,1382 C3,1377 3,1371 6,1367 Z" fill="#f2f276"/>
  <text class="leg" x="85" y="1311">internal</text>
  <text class="leg" x="85" y="1347">external</text>
  <text class="leg" x="85" y="1384">core</text>
  <rect x="270" y="1287" width="54" height="26" fill="#fff" stroke="#000" stroke-width="2"/>
  <ellipse cx="297" cy="1336" rx="55" ry="16" fill="#fff" stroke="#000" stroke-width="2"/>
  <rect x="270" y="1360" width="54" height="26" fill="#fff"/>
  <text class="leg" x="365" y="1311">instance</text>
  <text class="leg" x="365" y="1347">class</text>
  <text class="leg" x="365" y="1384">relation name</text>
  <line class="sub" x1="621" y1="1300" x2="684" y2="1300"/>
  <polygon class="head" points="710,1300 682,1286 682,1314"/>
  <line class="inst" x1="621" y1="1336" x2="684" y2="1336" stroke-dasharray="18 10"/>
  <polygon class="head" points="710,1336 682,1322 682,1350"/>
  <line class="rel" x1="621" y1="1373" x2="708" y2="1373"/>
  <polyline class="rel" points="688,1363 709,1373 688,1383"/>
  <text class="leg" x="732" y="1311">subclass</text>
  <text class="leg" x="732" y="1347">instance of</text>
  <text class="leg" x="732" y="1384">relation</text>
</g>
</svg>
